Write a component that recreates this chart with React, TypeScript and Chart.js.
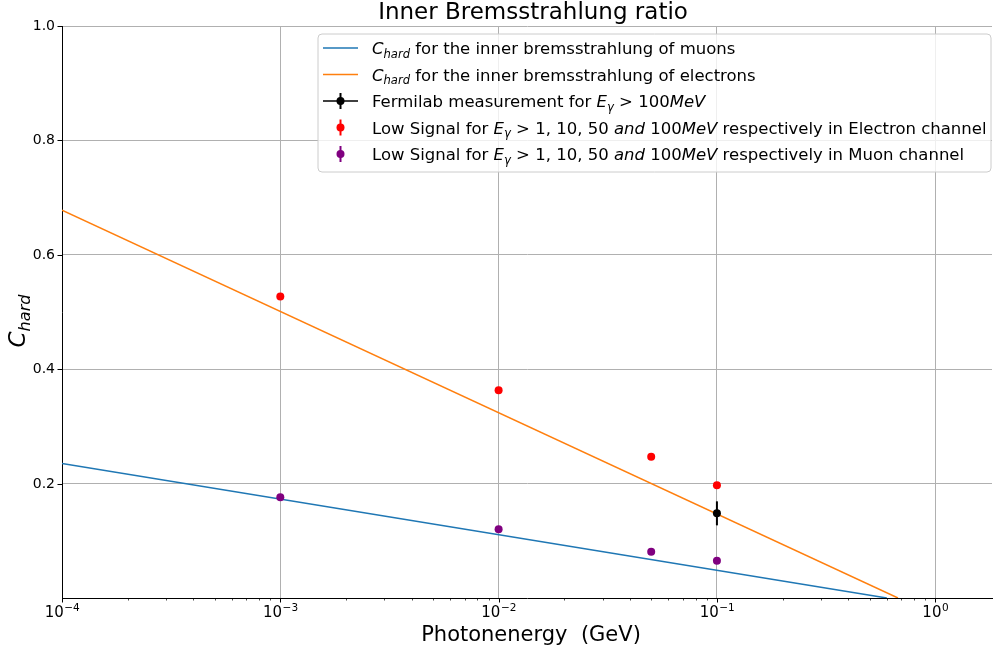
import React, { useEffect, useRef } from "react";
import { Chart, registerables } from "chart.js";
Chart.register(...registerables);

const FONT = "'DejaVu Sans', sans-serif";

// ---- data ----
const muonLineX = [1e-4, 0.6];
const muonLineY = [0.235, 0.0];
const electronLineX = [1e-4, 0.675];
const electronLineY = [0.678, 0.0];
const signalEnergies = [1e-3, 1e-2, 5e-2, 1e-1];
const electronSignal = [0.527, 0.363, 0.247, 0.197];
const muonSignal = [0.176, 0.12, 0.081, 0.065];
const fermilabEnergy = [0.1];
const fermilabValue = [0.148];
const fermilabError = [0.021];
const xMajorTicks = [1e-4, 1e-3, 1e-2, 1e-1, 1];
const xTickExponents = ["\u22124", "\u22123", "\u22122", "\u22121", "0"];
const yTicks = [0.2, 0.4, 0.6, 0.8, 1.0];
const yTickLabels = ["0.2", "0.4", "0.6", "0.8", "1.0"];
const X_MIN = 1e-4;
const X_MAX = 1.82;
const Y_MIN = 0;
const Y_MAX = 1;

const TITLE = "Inner Bremsstrahlung ratio";
const X_LABEL = "Photonenergy  (GeV)";

type Seg = { t: string; it?: boolean; sub?: boolean };

const chardSegs: Seg[] = [{ t: "C", it: true }, { t: "hard", it: true, sub: true }];
const egSegs: Seg[] = [{ t: "E", it: true }, { t: "\u03b3", it: true, sub: true }];

const legendItems: { segs: Seg[]; kind: string; color: string }[] = [
  { segs: [...chardSegs, { t: " for the inner bremsstrahlung of muons" }], kind: "line", color: "#1f77b4" },
  { segs: [...chardSegs, { t: " for the inner bremsstrahlung of electrons" }], kind: "line", color: "#ff7f0e" },
  { segs: [{ t: "Fermilab measurement for " }, ...egSegs, { t: " > 100" }, { t: "MeV", it: true }], kind: "errline", color: "#000000" },
  {
    segs: [{ t: "Low Signal for " }, ...egSegs, { t: " > 1, 10, 50 " }, { t: "and", it: true }, { t: " 100" }, { t: "MeV", it: true }, { t: " respectively in Electron channel" }],
    kind: "err",
    color: "#ff0000",
  },
  {
    segs: [{ t: "Low Signal for " }, ...egSegs, { t: " > 1, 10, 50 " }, { t: "and", it: true }, { t: " 100" }, { t: "MeV", it: true }, { t: " respectively in Muon channel" }],
    kind: "err",
    color: "#800080",
  },
];

function segFont(s: Seg, size: number) {
  const sz = s.sub ? size * 0.7 : size;
  return `${s.it ? "italic " : ""}${sz}px ${FONT}`;
}
function richWidth(ctx: CanvasRenderingContext2D, segs: Seg[], size: number) {
  let w = 0;
  for (const s of segs) {
    ctx.font = segFont(s, size);
    w += ctx.measureText(s.t).width;
  }
  return w;
}
function drawRich(ctx: CanvasRenderingContext2D, segs: Seg[], x: number, baseline: number, size: number) {
  let cx = x;
  ctx.textAlign = "left";
  ctx.textBaseline = "alphabetic";
  for (const s of segs) {
    ctx.font = segFont(s, size);
    ctx.fillText(s.t, cx, baseline + (s.sub ? size * 0.22 : 0));
    cx += ctx.measureText(s.t).width;
  }
}

const PLOT_RIGHT = 992;

const decor = {
  id: "decor",
  afterLayout(chart: any) {
    const area = chart.chartArea;
    area.right = PLOT_RIGHT;
    area.width = area.right - area.left;
    const xs = chart.scales.x;
    xs.right = PLOT_RIGHT;
    xs.width = xs.right - xs.left;
    xs.configure();
    const ys = chart.scales.y;
    ys._gridLineItems = null;
    xs._gridLineItems = null;
  },
  afterDatasetsDraw(chart: any) {
    const ctx: CanvasRenderingContext2D = chart.ctx;
    const xs = chart.scales.x;
    const ys = chart.scales.y;
    ctx.save();
    ctx.strokeStyle = "#000";
    ctx.lineWidth = 2;
    for (let i = 0; i < fermilabEnergy.length; i++) {
      const px = xs.getPixelForValue(fermilabEnergy[i]);
      ctx.beginPath();
      ctx.moveTo(px, ys.getPixelForValue(fermilabValue[i] - fermilabError[i]));
      ctx.lineTo(px, ys.getPixelForValue(fermilabValue[i] + fermilabError[i]));
      ctx.stroke();
    }
    ctx.restore();
  },
  afterDraw(chart: any) {
    const ctx: CanvasRenderingContext2D = chart.ctx;
    const xs = chart.scales.x;
    const ys = chart.scales.y;
    const area = chart.chartArea;
    ctx.save();
    ctx.fillStyle = "#000";
    ctx.strokeStyle = "#000";

    // x ticks (major + minor)
    ctx.lineWidth = 1;
    for (let i = 0; i < xMajorTicks.length; i++) {
      const px = Math.round(xs.getPixelForValue(xMajorTicks[i])) + 0.5;
      ctx.beginPath();
      ctx.moveTo(px, area.bottom);
      ctx.lineTo(px, area.bottom + 4.5);
      ctx.stroke();
    }
    ctx.lineWidth = 0.7;
    for (let i = 0; i < xMajorTicks.length; i++) {
      for (let k = 2; k <= 9; k++) {
        const v = xMajorTicks[i] * k;
        if (v > X_MAX) continue;
        const px = Math.round(xs.getPixelForValue(v)) + 0.5;
        ctx.beginPath();
        ctx.moveTo(px, area.bottom);
        ctx.lineTo(px, area.bottom + 2.5);
        ctx.stroke();
      }
    }
    // x tick labels 10^n
    for (let i = 0; i < xMajorTicks.length; i++) {
      const px = xs.getPixelForValue(xMajorTicks[i]);
      const base = "10";
      const exp = xTickExponents[i];
      ctx.font = `15px ${FONT}`;
      const wb = ctx.measureText(base).width;
      ctx.font = `10.5px ${FONT}`;
      const we = ctx.measureText(exp).width;
      const x0 = px - (wb + we) / 2;
      ctx.textAlign = "left";
      ctx.textBaseline = "alphabetic";
      ctx.font = `15px ${FONT}`;
      ctx.fillText(base, x0, 617);
      ctx.font = `10.5px ${FONT}`;
      ctx.fillText(exp, x0 + wb + 0.5, 610.5);
    }

    // y ticks
    ctx.lineWidth = 1;
    for (let i = 0; i < yTicks.length; i++) {
      const py = Math.round(ys.getPixelForValue(yTicks[i])) + 0.5;
      ctx.beginPath();
      ctx.moveTo(area.left - 4.5, py);
      ctx.lineTo(area.left, py);
      ctx.stroke();
      ctx.font = `14px ${FONT}`;
      ctx.textAlign = "right";
      ctx.textBaseline = "middle";
      ctx.fillText(yTickLabels[i], area.left - 7, py);
    }

    // title
    ctx.font = `23px ${FONT}`;
    ctx.textAlign = "center";
    ctx.textBaseline = "alphabetic";
    ctx.fillText(TITLE, 533, 19);

    // x label
    ctx.font = `21px ${FONT}`;
    ctx.fillText(X_LABEL, 531, 641);

    // y label
    ctx.save();
    ctx.translate(25, 321);
    ctx.rotate(-Math.PI / 2);
    const yw = richWidth(ctx, chardSegs, 23);
    drawRich(ctx, chardSegs, -yw / 2, 0, 23);
    ctx.restore();

    // legend
    const lx = 318, ly = 34, lw = 673, lh = 138, r = 4;
    ctx.beginPath();
    ctx.moveTo(lx + r, ly);
    ctx.arcTo(lx + lw, ly, lx + lw, ly + lh, r);
    ctx.arcTo(lx + lw, ly + lh, lx, ly + lh, r);
    ctx.arcTo(lx, ly + lh, lx, ly, r);
    ctx.arcTo(lx, ly, lx + lw, ly, r);
    ctx.closePath();
    ctx.fillStyle = "rgba(255,255,255,0.8)";
    ctx.fill();
    ctx.strokeStyle = "#cccccc";
    ctx.lineWidth = 1;
    ctx.stroke();

    for (let i = 0; i < legendItems.length; i++) {
      const it = legendItems[i];
      const cy = 48 + i * 26.5;
      const hx0 = 323, hx1 = 358, hc = (hx0 + hx1) / 2;
      ctx.strokeStyle = it.color;
      ctx.fillStyle = it.color;
      if (it.kind === "line" || it.kind === "errline") {
        ctx.lineWidth = 1.5;
        ctx.beginPath();
        ctx.moveTo(hx0, cy);
        ctx.lineTo(hx1, cy);
        ctx.stroke();
      }
      if (it.kind === "err" || it.kind === "errline") {
        ctx.lineWidth = 2;
        ctx.beginPath();
        ctx.moveTo(hc, cy - 8);
        ctx.lineTo(hc, cy + 8);
        ctx.stroke();
        ctx.beginPath();
        ctx.arc(hc, cy, 4, 0, Math.PI * 2);
        ctx.fill();
      }
      ctx.fillStyle = "#000";
      drawRich(ctx, it.segs, 372, cy + 6, 16.5);
    }
    ctx.restore();
  },
};

export default function App() {
  const ref = useRef<HTMLCanvasElement | null>(null);
  useEffect(() => {
    document.body.style.margin = "0";
    const canvas = ref.current!;
    const pts = (xs: number[], ys: number[]) => xs.map((x, i) => ({ x, y: ys[i] }));
    const chart = new Chart(canvas, {
      type: "scatter",
      data: {
        datasets: [
          {
            label: "muons",
            data: pts(muonLineX, muonLineY),
            showLine: true,
            borderColor: "#1f77b4",
            borderWidth: 1.5,
            pointRadius: 0,
            order: 10,
          },
          {
            label: "electrons",
            data: pts(electronLineX, electronLineY),
            showLine: true,
            borderColor: "#ff7f0e",
            borderWidth: 1.5,
            pointRadius: 0,
            order: 9,
          },
          {
            label: "Fermilab",
            data: pts(fermilabEnergy, fermilabValue),
            pointRadius: 4,
            pointBorderWidth: 0,
            backgroundColor: "#000000",
            borderColor: "#000000",
            order: 1,
          },
          {
            label: "Electron channel",
            data: pts(signalEnergies, electronSignal),
            pointRadius: 4,
            pointBorderWidth: 0,
            backgroundColor: "#ff0000",
            borderColor: "#ff0000",
            order: 2,
          },
          {
            label: "Muon channel",
            data: pts(signalEnergies, muonSignal),
            pointRadius: 4,
            pointBorderWidth: 0,
            backgroundColor: "#800080",
            borderColor: "#800080",
            order: 3,
          },
        ],
      },
      options: {
        animation: false,
        responsive: false,
        devicePixelRatio: 1,
        layout: { padding: { top: 26, right: 1, left: 0, bottom: 0 } },
        plugins: { legend: { display: false }, tooltip: { enabled: false }, title: { display: false } },
        scales: {
          x: {
            type: "logarithmic",
            min: X_MIN,
            max: X_MAX,
            afterBuildTicks: (s: any) => {
              s.ticks = xMajorTicks.map((v) => ({ value: v, major: true }));
            },
            afterFit: (s: any) => {
              s.height = 53;
            },
            ticks: { display: false },
            grid: { color: "#b0b0b0", lineWidth: 1, drawTicks: false },
            border: { display: true, color: "#000000", width: 1 },
          },
          y: {
            type: "linear",
            min: Y_MIN,
            max: Y_MAX,
            afterBuildTicks: (s: any) => {
              s.ticks = yTicks.map((v) => ({ value: v }));
            },
            afterFit: (s: any) => {
              s.width = 62;
            },
            ticks: { display: false },
            grid: { color: "#b0b0b0", lineWidth: 1, drawTicks: false },
            border: { display: true, color: "#000000", width: 1 },
          },
        },
      } as any,
      plugins: [decor],
    });
    return () => chart.destroy();
  }, []);
  return (
    <div style={{ width: 993, height: 651 }}>
      <canvas ref={ref} width={993} height={651} style={{ width: 993, height: 651, display: "block" }} />
    </div>
  );
}
